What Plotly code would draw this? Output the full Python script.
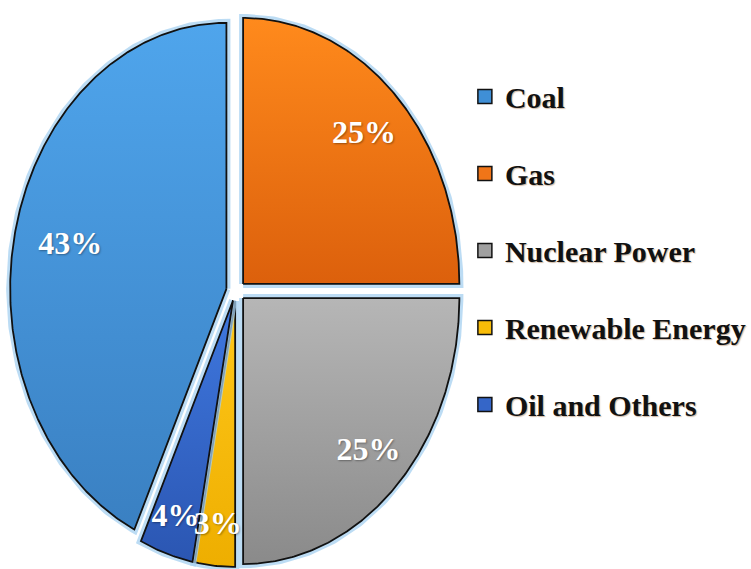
import numpy as np
import plotly.graph_objects as go

# Electricity generation mix (%)
sources = ["Coal", "Gas", "Nuclear Power", "Renewable Energy", "Oil and Others"]
shares = [43, 25, 25, 3, 4]
label_texts = ["43%", "25%", "25%", "3%", "4%"]

# Slice fill gradients (top -> bottom)
top_colors = ["#4fa5ec", "#ff8a1c", "#b6b6b6", "#ffc81a", "#3f78df"]
bottom_colors = ["#3a80c2", "#dc600c", "#8a8a8a", "#eeae00", "#2b56b2"]
legend_colors = ["#3f8fd6", "#f07518", "#a0a0a0", "#f8bc08", "#3566c8"]

# Pie layout in pixel units (elliptical pie, exploded slices)
CX, CY = 238, 291
RX, RY = 218, 266
EXPLODE = 10
# radial position of each percentage label (fraction of the radius)
label_radius = [0.74, 0.79, 0.82, 0.85, 0.86]

total = float(sum(shares))
# first slice is rotated so that it closes at 12 o'clock
start = 360.0 - shares[0] / total * 360.0

fig = go.Figure()

angle = start
for i, (name, val) in enumerate(zip(sources, shares)):
    span = val / total * 360.0
    a0, a1 = angle, angle + span
    mid = np.radians((a0 + a1) / 2.0)
    ox, oy = EXPLODE * np.sin(mid), -EXPLODE * np.cos(mid)
    n = max(int(span * 2), 6)
    th = np.radians(np.linspace(a0, a1, n))
    xs = np.concatenate([[CX + ox], CX + ox + RX * np.sin(th), [CX + ox]])
    ys = np.concatenate([[CY + oy], CY + oy - RY * np.cos(th), [CY + oy]])

    # soft glow around the slice
    fig.add_trace(go.Scatter(
        x=xs, y=ys, mode="lines", hoverinfo="skip", showlegend=False,
        line=dict(color="rgba(165,208,240,0.75)", width=8),
    ))
    fig.add_trace(go.Scatter(
        x=xs, y=ys, mode="lines", fill="toself", name=name, showlegend=False,
        line=dict(color="#111111", width=1.8),
        fillgradient=dict(
            type="vertical",
            colorscale=[[0, top_colors[i]], [1, bottom_colors[i]]],
            start=float(ys.min()), stop=float(ys.max()),
        ),
        hoverinfo="text", text=f"{name}: {val}%",
    ))
    angle = a1

# percentage labels
angle = start
lx, ly = [], []
for i, val in enumerate(shares):
    span = val / total * 360.0
    mid = np.radians(angle + span / 2.0)
    ox, oy = EXPLODE * np.sin(mid), -EXPLODE * np.cos(mid)
    r = label_radius[i]
    lx.append(CX + ox + r * RX * np.sin(mid))
    ly.append(CY + oy - r * RY * np.cos(mid))
    angle += span

fig.add_trace(go.Scatter(
    x=lx, y=ly, mode="text", text=label_texts, showlegend=False, hoverinfo="skip",
    textfont=dict(family="Liberation Serif", size=32, color="white", weight="bold",
                  shadow="1px 1px 2px rgba(0,0,0,0.35)"),
))

# legend entries
for i, name in enumerate(sources):
    fig.add_trace(go.Scatter(
        x=[None], y=[None], mode="markers", name=name, legendgroup=name,
        marker=dict(symbol="square", size=14, color=legend_colors[i],
                    line=dict(color="#111111", width=1.5)),
    ))

fig.update_layout(
    width=751, height=569,
    margin=dict(l=0, r=0, t=0, b=0),
    paper_bgcolor="white", plot_bgcolor="white",
    xaxis=dict(range=[0, 751], visible=False, fixedrange=True),
    yaxis=dict(range=[569, 0], visible=False, fixedrange=True),
    legend=dict(
        x=0.624, y=0.876, xanchor="left", yanchor="top",
        tracegroupgap=35, bgcolor="rgba(0,0,0,0)",
        font=dict(family="Liberation Serif", size=30, color="#111111", weight="bold",
                  shadow="1px 1px 1px rgba(120,60,0,0.35)"),
        itemclick=False, itemdoubleclick=False,
    ),
)

fig.write_html("out.html")
